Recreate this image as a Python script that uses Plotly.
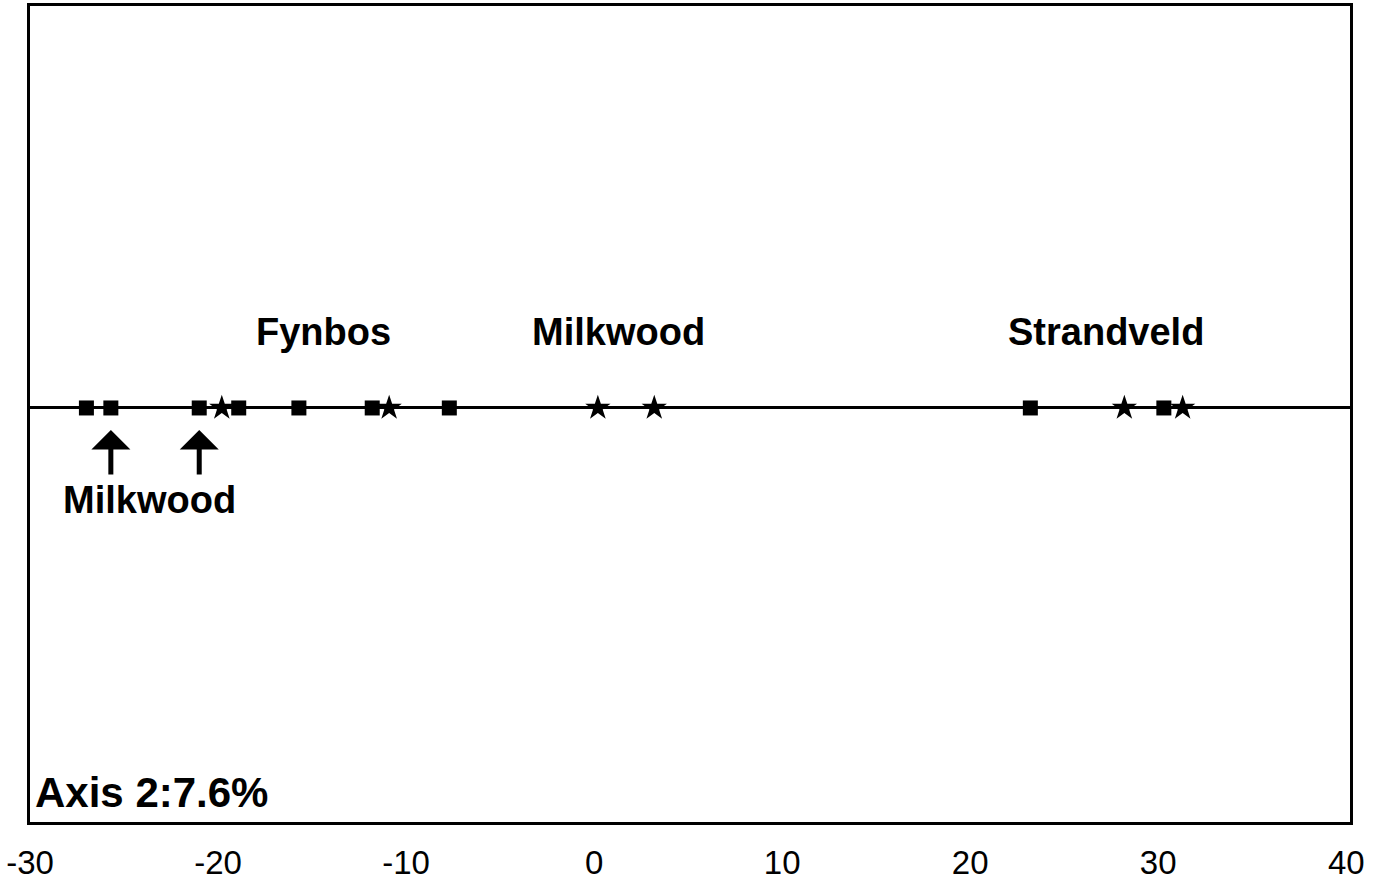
import plotly.graph_objects as go

# Axis 1 scores, all on axis 2 = 0
square_x = [-27.0, -25.7, -21.0, -18.9, -15.7, -11.8, -7.7, 23.2, 30.3]
star_x = [-19.8, -10.9, 0.2, 3.2, 28.2, 31.3]
arrow_x = [-25.7, -21.0]  # Milkwood samples within the Fynbos group

group_labels = ["Fynbos", "Milkwood", "Strandveld"]
group_label_x = [-14.4, 1.3, 27.2]

tick_vals = [-30, -20, -10, 0, 10, 20, 30, 40]
tick_text = ["-30", "-20", "-10", "0", "10", "20", "30", "40"]

FONT = "Liberation Sans, Arial, Helvetica, sans-serif"

fig = go.Figure()
fig.add_trace(go.Scatter(
    x=square_x, y=[0] * len(square_x), mode="markers",
    marker=dict(symbol="square", size=15, color="black"),
    showlegend=False, hoverinfo="skip"))
fig.add_trace(go.Scatter(
    x=star_x, y=[0] * len(star_x), mode="markers",
    marker=dict(symbol="star", size=19, color="black"),
    showlegend=False, hoverinfo="skip"))

annotations = []
for lbl, lx in zip(group_labels, group_label_x):
    annotations.append(dict(x=lx, y=0, text="<b>%s</b>" % lbl, showarrow=False,
                            yshift=76, font=dict(family=FONT, size=38, color="black")))
for ax_ in arrow_x:
    annotations.append(dict(x=ax_, y=0, text="", showarrow=True, ax=0, ay=68,
                            standoff=22, arrowhead=1, arrowsize=1.3, arrowwidth=5,
                            arrowcolor="black"))
annotations.append(dict(x=(arrow_x[0] + arrow_x[1]) / 2 - 0.3, y=0, text="<b>Milkwood</b>",
                        showarrow=False, yshift=-92,
                        font=dict(family=FONT, size=38, color="black")))
annotations.append(dict(x=0, y=0, xref="paper", yref="paper", text="<b>Axis 2:7.6%</b>",
                        showarrow=False, xanchor="left", yanchor="bottom", xshift=3, yshift=4,
                        font=dict(family=FONT, size=42, color="black")))

fig.update_layout(
    width=1382, height=880,
    margin=dict(l=30, r=32, t=6, b=58, autoexpand=False),
    paper_bgcolor="white", plot_bgcolor="white",
    annotations=annotations,
    xaxis=dict(range=[-30, 40.2], tickvals=tick_vals, ticktext=tick_text,
               showgrid=False, zeroline=False, showline=True, linecolor="black",
               linewidth=3, mirror=True, ticks="", ticklabelstandoff=9, automargin=False,
               tickfont=dict(family=FONT, size=33, color="black")),
    yaxis=dict(range=[-1.03, 1.0], showticklabels=False, showgrid=False, automargin=False,
               zeroline=True, zerolinecolor="black", zerolinewidth=2.5,
               showline=True, linecolor="black", linewidth=3, mirror=True, ticks=""),
)

fig.write_html("out.html")
